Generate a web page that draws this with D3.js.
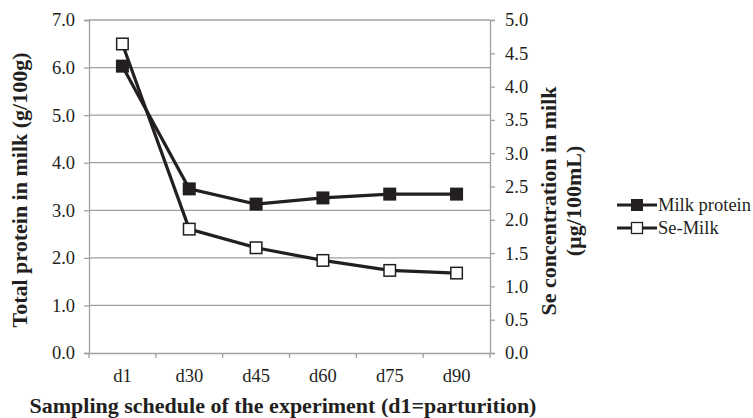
<!DOCTYPE html>
<html><head><meta charset="utf-8">
<script src="https://cdn.jsdelivr.net/npm/d3@7"></script>
<style>body{margin:0;background:#fff}svg{display:block}text{font-family:"Liberation Serif","Times New Roman",serif;fill:#231f20}</style>
</head><body><svg id="c" width="753" height="418"></svg>
<script>
const categories = ["d1","d30","d45","d60","d75","d90"];
const milkProtein = [6.03, 3.45, 3.13, 3.26, 3.34, 3.34];
const seMilk = [4.64, 1.86, 1.58, 1.39, 1.24, 1.20];
const leftTicks = [0,1,2,3,4,5,6,7];
const rightTicks = [0,0.5,1,1.5,2,2.5,3,3.5,4,4.5,5];
const seriesNames = ["Milk protein","Se-Milk"];

const svg = d3.select("#c");
const L = 89, R = 490, T = 20, B = 353;
const x = d3.scaleBand().domain(categories).range([L, R]);
const yL = d3.scaleLinear().domain([0,7]).range([B, T]);
const yR = d3.scaleLinear().domain([0,5]).range([B, T]);
const grid = "#a0a0a0";
const fs = "18.5px";

svg.append("g").selectAll("line").data(leftTicks.filter(d=>d>0)).join("line")
  .attr("x1", L).attr("x2", R).attr("y1", d=>yL(d)).attr("y2", d=>yL(d))
  .attr("stroke", grid).attr("stroke-width", 1.3);

const gl = svg.append("g").attr("transform", `translate(${L},0)`)
  .call(d3.axisLeft(yL).tickValues(leftTicks).tickFormat(d3.format(".1f")).tickSizeOuter(0).tickSize(5).tickPadding(9));
gl.selectAll("path,line").attr("stroke", grid).attr("stroke-width", 1.3);
gl.selectAll("text").style("font-size",fs).attr("fill","#231f20");

const gr = svg.append("g").attr("transform", `translate(${R},0)`)
  .call(d3.axisRight(yR).tickValues(rightTicks).tickFormat(d3.format(".1f")).tickSizeOuter(0).tickSize(5).tickPadding(10));
gr.selectAll("path,line").attr("stroke", grid).attr("stroke-width", 1.3);
gr.selectAll("text").style("font-size",fs).attr("fill","#231f20");

const gb = svg.append("g").attr("transform", `translate(0,${B})`)
  .call(d3.axisBottom(x).tickSize(0).tickPadding(16));
gb.select("path").attr("stroke", grid).attr("stroke-width", 1.3);
gb.selectAll("text").style("font-size",fs).attr("fill","#231f20");
const bounds = categories.map(c=>x(c)).concat([R]);
svg.append("g").selectAll("line").data(bounds).join("line")
  .attr("x1", d=>d).attr("x2", d=>d).attr("y1", B).attr("y2", B+5)
  .attr("stroke", grid).attr("stroke-width", 1.3);

const cx = c => x(c) + x.bandwidth()/2;
const lineL = d3.line().x((d,i)=>cx(categories[i])).y(d=>yL(d));
const lineR = d3.line().x((d,i)=>cx(categories[i])).y(d=>yR(d));
const ms = 13;

svg.append("path").datum(seMilk).attr("d", lineR).attr("fill","none").attr("stroke","#231f20").attr("stroke-width",3.2);
svg.append("path").datum(milkProtein).attr("d", lineL).attr("fill","none").attr("stroke","#231f20").attr("stroke-width",3.2);
svg.append("g").selectAll("rect").data(milkProtein).join("rect")
  .attr("x",(d,i)=>cx(categories[i])-ms/2).attr("y",d=>yL(d)-ms/2).attr("width",ms).attr("height",ms)
  .attr("fill","#231f20");
svg.append("g").selectAll("rect").data(seMilk).join("rect")
  .attr("x",(d,i)=>cx(categories[i])-ms/2+0.75).attr("y",d=>yR(d)-ms/2+0.75).attr("width",ms-1.5).attr("height",ms-1.5)
  .attr("fill","#fff").attr("stroke","#231f20").attr("stroke-width",1.5);

svg.append("text").attr("transform","translate(27,190) rotate(-90)").attr("text-anchor","middle")
  .style("font-size","22px").style("font-weight","bold").text("Total protein in milk (g/100g)");
svg.append("text").attr("transform","translate(556,201) rotate(-90)").attr("text-anchor","middle")
  .style("font-size","22px").style("font-weight","bold").text("Se concentration in milk");
svg.append("text").attr("transform","translate(581,201) rotate(-90)").attr("text-anchor","middle")
  .style("font-size","22px").style("font-weight","bold").text("(µg/100mL)");
svg.append("text").attr("x",283).attr("y",413).attr("text-anchor","middle")
  .style("font-size","22px").style("font-weight","bold").text("Sampling schedule of the experiment (d1=parturition)");

const lg = svg.append("g");
seriesNames.forEach((n,i)=>{
  const yy = 205 + i*23;
  lg.append("line").attr("x1",617).attr("x2",657).attr("y1",yy).attr("y2",yy).attr("stroke","#231f20").attr("stroke-width",3.2);
  if(i===0) lg.append("rect").attr("x",637-6).attr("y",yy-6).attr("width",12).attr("height",12).attr("fill","#231f20");
  else lg.append("rect").attr("x",637-5.5).attr("y",yy-5.5).attr("width",11).attr("height",11).attr("fill","#fff").attr("stroke","#231f20").attr("stroke-width",1.3);
  lg.append("text").attr("x",658).attr("y",yy+6).style("font-size","18.5px").text(n);
});
</script></body></html>
